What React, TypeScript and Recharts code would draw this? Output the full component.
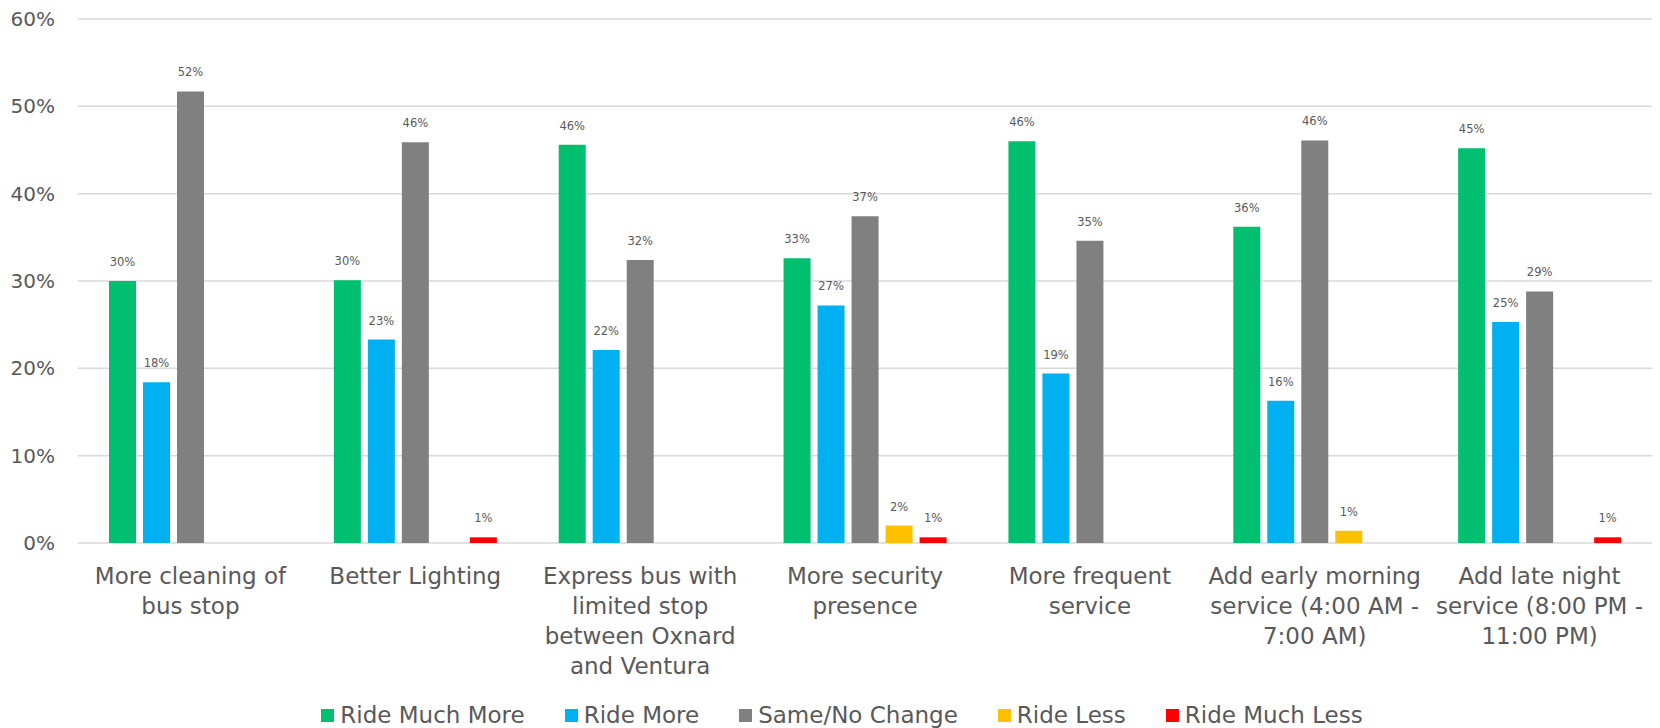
import React from 'react';
import {
  BarChart,
  Bar,
  XAxis,
  YAxis,
  CartesianGrid,
  Legend,
  LabelList,
} from 'recharts';

// categories (line breaks as in the original axis)
const categories = [
  'More cleaning of\nbus stop',
  'Better Lighting',
  'Express bus with\nlimited stop\nbetween Oxnard\nand Ventura',
  'More security\npresence',
  'More frequent\nservice',
  'Add early morning\nservice (4:00 AM -\n7:00 AM)',
  'Add late night\nservice (8:00 PM -\n11:00 PM)',
];

// values in percent
const rideMuchMore = [30.0, 30.1, 45.6, 32.6, 46.0, 36.2, 45.2];
const rideMore = [18.4, 23.3, 22.1, 27.2, 19.4, 16.3, 25.3];
const sameNoChange = [51.7, 45.9, 32.4, 37.4, 34.6, 46.1, 28.8];
const rideLess = [null, null, null, 2.0, null, 1.4, null];
const rideMuchLess = [null, 0.65, null, 0.65, null, null, 0.65];

const yTicks = [0, 10, 20, 30, 40, 50, 60];

const series = [
  { key: 'rideMuchMore', name: 'Ride Much More', color: '#00BF6F' },
  { key: 'rideMore', name: 'Ride More', color: '#00B0F0' },
  { key: 'sameNoChange', name: 'Same/No Change', color: '#808080' },
  { key: 'rideLess', name: 'Ride Less', color: '#FFC000' },
  { key: 'rideMuchLess', name: 'Ride Much Less', color: '#FF0000' },
];

const data = categories.map((name, i) => ({
  name,
  rideMuchMore: rideMuchMore[i],
  rideMore: rideMore[i],
  sameNoChange: sameNoChange[i],
  rideLess: rideLess[i],
  rideMuchLess: rideMuchLess[i],
}));

const FONT = '"DejaVu Sans", sans-serif';
const TEXT = '#595959';

const CategoryTick = (props: any) => {
  const { x, y, payload } = props;
  const lines = String(payload.value).split('\n');
  return (
    <g transform={`translate(${x},${y})`}>
      <text textAnchor="middle" fill={TEXT} fontSize={23} fontFamily={FONT}>
        {lines.map((line, i) => (
          <tspan key={i} x={0} y={39 + i * 30}>
            {line}
          </tspan>
        ))}
      </text>
    </g>
  );
};

const LegendContent = () => (
  <div
    style={{
      display: 'flex',
      justifyContent: 'center',
      alignItems: 'center',
      height: 26,
      paddingLeft: 32,
      fontFamily: FONT,
      fontSize: 23,
      color: TEXT,
    }}
  >
    {series.map((s, i) => (
      <div
        key={s.key}
        style={{
          display: 'flex',
          alignItems: 'center',
          marginRight: i < series.length - 1 ? 40 : 0,
        }}
      >
        <span
          style={{
            width: 13,
            height: 13,
            background: s.color,
            display: 'inline-block',
            marginRight: 6,
          }}
        />
        <span>{s.name}</span>
      </div>
    ))}
  </div>
);

const fmt = (v: any) => (v == null ? '' : `${Math.round(v)}%`);

export default function App() {
  return (
    <div style={{ position: 'absolute', left: 0, top: 0, background: '#fff' }}>
      <BarChart
        width={1660}
        height={728}
        data={data}
        margin={{ top: 19, right: 8, left: 0, bottom: 0 }}
        barSize={27}
        barGap={7}
      >
        <CartesianGrid vertical={false} stroke="#D9D9D9" strokeWidth={1.5} />
        <XAxis
          dataKey="name"
          axisLine={false}
          tickLine={false}
          tickSize={0}
          height={159}
          interval={0}
          tick={<CategoryTick />}
        />
        <YAxis
          domain={[0, 60]}
          ticks={yTicks}
          width={78}
          axisLine={false}
          tickLine={false}
          tickSize={0}
          tickMargin={23}
          tickFormatter={(v) => `${v}%`}
          tick={{ fill: TEXT, fontSize: 20, fontFamily: FONT }}
        />
        <Legend
          verticalAlign="bottom"
          content={<LegendContent />}
          wrapperStyle={{ height: 26 }}
        />
        {series.map((s) => (
          <Bar
            key={s.key}
            dataKey={s.key}
            name={s.name}
            fill={s.color}
            isAnimationActive={false}
          >
            <LabelList
              dataKey={s.key}
              position="top"
              offset={15}
              formatter={fmt}
              fill={TEXT}
              fontSize={11.5}
              fontFamily={FONT}
            />
          </Bar>
        ))}
      </BarChart>
    </div>
  );
}
